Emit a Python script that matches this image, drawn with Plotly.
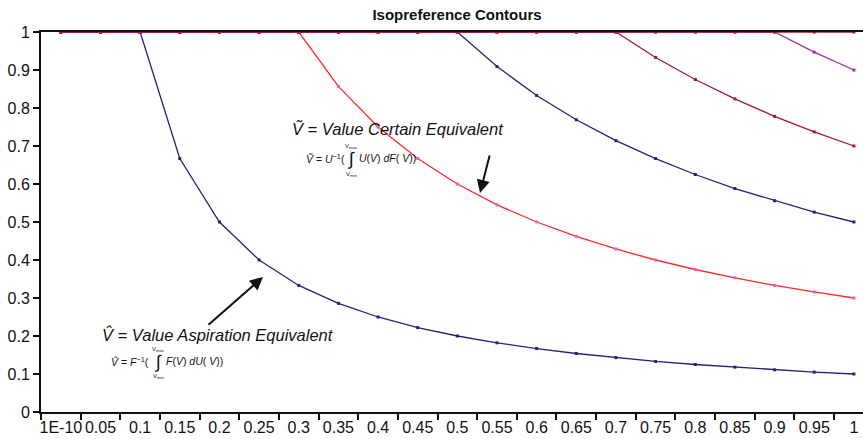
import plotly.graph_objects as go

categories = ["1E-10", "0.05", "0.1", "0.15", "0.2", "0.25", "0.3", "0.35", "0.4", "0.45", "0.5",
              "0.55", "0.6", "0.65", "0.7", "0.75", "0.8", "0.85", "0.9", "0.95", "1"]

contour_01 = [1, 1, 1, 0.667, 0.5, 0.4, 0.333, 0.286, 0.25, 0.222, 0.2,
              0.182, 0.167, 0.154, 0.143, 0.133, 0.125, 0.118, 0.111, 0.105, 0.1]
contour_03 = [1, 1, 1, 1, 1, 1, 1, 0.857, 0.75, 0.667, 0.6,
              0.545, 0.5, 0.462, 0.429, 0.4, 0.375, 0.353, 0.333, 0.316, 0.3]
contour_05 = [1, 1, 1, 1, 1, 1, 1, 1, 1, 1, 1,
              0.909, 0.833, 0.769, 0.714, 0.667, 0.625, 0.588, 0.556, 0.526, 0.5]
contour_07 = [1, 1, 1, 1, 1, 1, 1, 1, 1, 1, 1,
              1, 1, 1, 1, 0.933, 0.875, 0.824, 0.778, 0.737, 0.7]
contour_09 = [1, 1, 1, 1, 1, 1, 1, 1, 1, 1, 1,
              1, 1, 1, 1, 1, 1, 1, 1, 0.947, 0.9]
contour_top = [1, 1, 1, 1, 1, 1, 1, 1, 1, 1, 1,
               1, 1, 1, 1, 1, 1, 1, 1, 1, 1]

y_ticks = [0, 0.1, 0.2, 0.3, 0.4, 0.5, 0.6, 0.7, 0.8, 0.9, 1]
y_ticklabels = ["0", "0.1", "0.2", "0.3", "0.4", "0.5", "0.6", "0.7", "0.8", "0.9", "1"]

W, H = 863, 439
L, R, T, B = 41, 0, 32, 27
XMIN, XMAX = -0.5, 20.23
plot_w = W - L - R
plot_h = H - T - B


def px2x(px):
    return XMIN + (px - L) / plot_w * (XMAX - XMIN)


def py2y(py):
    return (H - B - py) / plot_h


FONT = "Liberation Sans, Arial, sans-serif"
INK = "#111111"

series = [
    (contour_01, "#23237A", "#23237A"),
    (contour_03, "#FF2A2A", "#E060C8"),
    (contour_05, "#23237A", "#23237A"),
    (contour_07, "#9E1B32", "#9E1B32"),
    (contour_09, "#A0309A", "#A0309A"),
    (contour_top, "#9E1B32", "#9E1B32"),
]

fig = go.Figure()
for vals, lc, mc in series:
    fig.add_trace(go.Scatter(
        x=categories, y=vals, mode="lines+markers",
        line=dict(color=lc, width=1.3),
        marker=dict(color=mc, size=3, symbol="square"),
        showlegend=False, cliponaxis=False,
    ))

anns = []


def txt(px, py, text, size, xanchor="left", family=FONT):
    anns.append(dict(x=px2x(px), y=py2y(py), xanchor=xanchor, yanchor="middle",
                     text=text, showarrow=False,
                     font=dict(family=family, size=size, color=INK)))


# Value Certain Equivalent
txt(290, 129, "<i>Ṽ = Value Certain Equivalent</i>", 16.5)
txt(304, 158, "<i>Ṽ</i> = <i>U</i><sup>−1</sup>(", 10.5)
txt(351, 159, "∫", 18, "center")
txt(357, 158, "<i>U</i>(<i>V</i>) <i>dF</i>( <i>V</i>))", 10.5)
txt(351, 146, "V<sub>max</sub>", 6, "center")
txt(351, 174, "V<sub>min</sub>", 6, "center")
anns.append(dict(x=px2x(480), y=py2y(193), ax=10, ay=-39, text="", showarrow=True,
                 arrowhead=2, arrowsize=1.3, arrowwidth=2, arrowcolor=INK))

# Value Aspiration Equivalent
txt(100, 334, "<i>V̂ = Value Aspiration Equivalent</i>", 16.5)
txt(109, 361, "<i>V̂</i> = <i>F</i><sup>−1</sup>(", 10.5)
txt(158, 362, "∫", 18, "center")
txt(164, 361, "<i>F</i>(<i>V</i>) <i>dU</i>( <i>V</i>))", 10.5)
txt(158, 349, "V<sub>max</sub>", 6, "center")
txt(158, 376, "V<sub>min</sub>", 6, "center")
anns.append(dict(x=px2x(263), y=py2y(277), ax=-56, ay=49, text="", showarrow=True,
                 arrowhead=2, arrowsize=1.3, arrowwidth=2, arrowcolor=INK))

fig.update_layout(
    width=W, height=H,
    margin=dict(l=L, r=R, t=T, b=B, pad=0),
    paper_bgcolor="white", plot_bgcolor="white",
    font=dict(family=FONT, size=16, color=INK),
    title=dict(text="<b>Isopreference Contours</b>", x=457 / W,
               xanchor="center", y=1 - 15 / H, yanchor="middle",
               font=dict(family=FONT, size=15, color=INK)),
    xaxis=dict(type="category", range=[XMIN, XMAX], tickson="boundaries",
               showline=True, linecolor=INK, linewidth=2, mirror=True,
               ticks="outside", ticklen=6, tickcolor=INK, tickwidth=1.5,
               tickangle=0, showgrid=False, zeroline=False,
               tickfont=dict(family=FONT, size=16, color=INK)),
    yaxis=dict(range=[0, 1], tickvals=y_ticks, ticktext=y_ticklabels,
               showline=True, linecolor=INK, linewidth=2,
               ticks="outside", ticklen=6, tickcolor=INK, tickwidth=1.5,
               showgrid=False, zeroline=False,
               tickfont=dict(family=FONT, size=16, color=INK)),
    annotations=anns,
)

fig.write_html("out.html")
